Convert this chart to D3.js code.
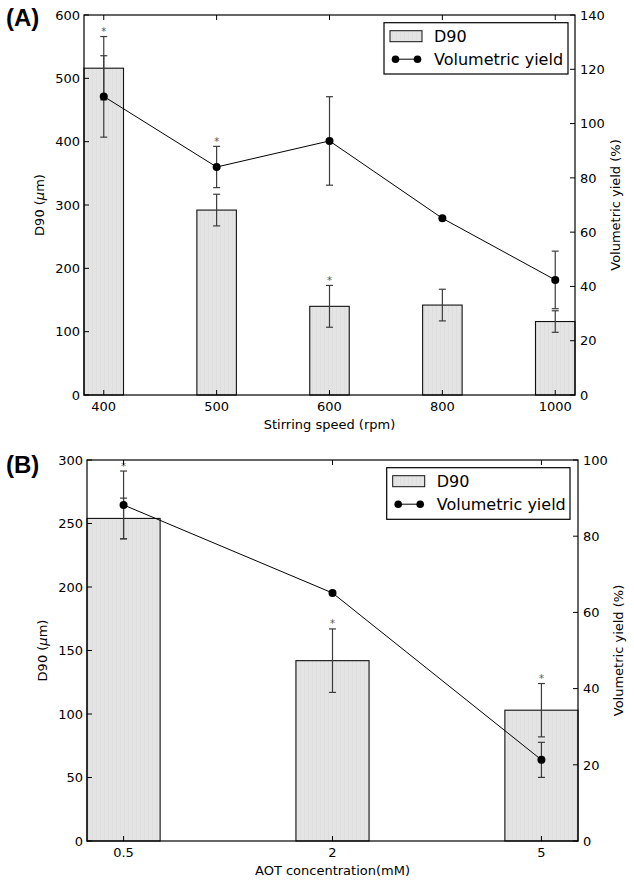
<!DOCTYPE html>
<html>
<head>
<meta charset="utf-8">
<script src="https://cdn.jsdelivr.net/npm/d3@7"></script>
<style>
  html, body { margin: 0; padding: 0; background: #fff; }
  svg text { font-family: "DejaVu Sans", sans-serif; fill: #000; }
</style>
</head>
<body>
<div id="chart"></div>
<script>
// ---------- Panel A data ----------
const catsA = ["400", "500", "600", "800", "1000"];
const d90A = [516, 292, 140, 142, 116];
const d90ErrA = [50, 25, 33, 25, 17];
const yieldA = [110, 84, 93.6, 65.1, 42.4];
const yieldErrA = [15, 7.6, 16.3, 0, 10.6];
const starA = ["d90", "yield", "d90", null, null];
const leftTicksA = [0, 100, 200, 300, 400, 500, 600];
const rightTicksA = [0, 20, 40, 60, 80, 100, 120, 140];

// ---------- Panel B data ----------
const catsB = ["0.5", "2", "5"];
const d90B = [254, 142, 103];
const d90ErrB = [16, 25, 21];
const yieldB = [88.2, 65.1, 21.3];
const yieldErrB = [8.9, 0, 4.6];
const starB = ["yield", "d90", "d90"];
const leftTicksB = [0, 50, 100, 150, 200, 250, 300];
const rightTicksB = [0, 20, 40, 60, 80, 100];

const W = 634, H = 882;
const svg = d3.select("#chart").append("svg").attr("width", W).attr("height", H);

const defs = svg.append("defs");
const pat = defs.append("pattern").attr("id", "hatch").attr("patternUnits", "userSpaceOnUse")
  .attr("width", 4).attr("height", 6);
pat.append("rect").attr("width", 4).attr("height", 6).attr("fill", "#e4e4e4");
pat.append("line").attr("x1", 0.5).attr("x2", 0.5).attr("y1", 0).attr("y2", 6)
  .attr("stroke", "#dedede").attr("stroke-width", 1);

function panel(cfg) {
  const g = svg.append("g");
  const {left, right, top, bottom} = cfg.box;
  const n = cfg.cats.length;
  const half = 0.175;
  const x = d3.scaleLinear().domain([-half, n - 1 + half]).range([left, right]);
  const yL = d3.scaleLinear().domain([0, cfg.leftTicks[cfg.leftTicks.length - 1]]).range([bottom, top]);
  const yR = d3.scaleLinear().domain([0, cfg.rightTicks[cfg.rightTicks.length - 1]]).range([bottom, top]);
  const idx = d3.range(n);
  const errColor = "#3c3c3c";
  const capW = 3.5;

  // bars
  g.selectAll("rect.bar").data(idx).join("rect").attr("class", "bar")
    .attr("x", i => x(i - half)).attr("width", i => x(i + half) - x(i - half))
    .attr("y", i => yL(cfg.d90[i])).attr("height", i => yL(0) - yL(cfg.d90[i]))
    .attr("fill", "url(#hatch)").attr("stroke", "#111").attr("stroke-width", 1.1);

  function errBars(vals, errs, scale) {
    idx.forEach(i => {
      if (!errs[i]) return;
      const cx = x(i), y1 = scale(vals[i] + errs[i]), y2 = scale(vals[i] - errs[i]);
      g.append("line").attr("x1", cx).attr("x2", cx).attr("y1", y1).attr("y2", y2)
        .attr("stroke", errColor).attr("stroke-width", 1.2);
      [y1, y2].forEach(yy => g.append("line").attr("x1", cx - capW).attr("x2", cx + capW)
        .attr("y1", yy).attr("y2", yy).attr("stroke", errColor).attr("stroke-width", 1.2));
    });
  }
  errBars(cfg.d90, cfg.d90Err, yL);

  // line
  const line = d3.line().x(i => x(i)).y(i => yR(cfg.yield[i]));
  g.append("path").datum(idx).attr("d", line).attr("fill", "none").attr("stroke", "#000").attr("stroke-width", 1);
  errBars(cfg.yield, cfg.yieldErr, yR);
  g.selectAll("circle.pt").data(idx).join("circle").attr("class", "pt")
    .attr("cx", i => x(i)).attr("cy", i => yR(cfg.yield[i])).attr("r", 4).attr("fill", "#000");

  // asterisks
  idx.forEach(i => {
    const s = cfg.star[i];
    if (!s) return;
    const capY = s === "d90" ? yL(cfg.d90[i] + cfg.d90Err[i]) : yR(cfg.yield[i] + cfg.yieldErr[i]);
    g.append("text").attr("x", x(i)).attr("y", capY - 1.5).attr("text-anchor", "middle")
      .attr("font-size", 10).style("fill", "#555").text("*");
  });

  // frame
  g.append("rect").attr("x", left).attr("y", top).attr("width", right - left).attr("height", bottom - top)
    .attr("fill", "none").attr("stroke", "#000").attr("stroke-width", 1.2);

  const tl = 5;
  // left ticks
  cfg.leftTicks.forEach(t => {
    g.append("line").attr("x1", left).attr("x2", left + tl).attr("y1", yL(t)).attr("y2", yL(t)).attr("stroke", "#000");
    g.append("text").attr("x", left - 4).attr("y", yL(t) + 4.7).attr("text-anchor", "end").attr("font-size", 13).text(t);
  });
  // right ticks
  cfg.rightTicks.forEach(t => {
    g.append("line").attr("x1", right).attr("x2", right - tl).attr("y1", yR(t)).attr("y2", yR(t)).attr("stroke", "#000");
    g.append("text").attr("x", right + 5).attr("y", yR(t) + 4.7).attr("text-anchor", "start").attr("font-size", 13).text(t);
  });
  // x ticks
  idx.forEach(i => {
    g.append("line").attr("x1", x(i)).attr("x2", x(i)).attr("y1", bottom).attr("y2", bottom - tl).attr("stroke", "#000");
    g.append("line").attr("x1", x(i)).attr("x2", x(i)).attr("y1", top).attr("y2", top + tl).attr("stroke", "#000");
    g.append("text").attr("x", x(i)).attr("y", bottom + 15.5).attr("text-anchor", "middle").attr("font-size", 13).text(cfg.cats[i]);
  });

  // axis labels
  g.append("text").attr("x", (left + right) / 2).attr("y", bottom + 33.5).attr("text-anchor", "middle")
    .attr("font-size", 13).text(cfg.xLabel);
  const ly = g.append("text").attr("transform", `translate(${left - 40},${(top + bottom) / 2}) rotate(-90)`)
    .attr("text-anchor", "middle").attr("font-size", 13);
  ly.append("tspan").text("D90 (");
  ly.append("tspan").attr("font-style", "italic").text("μ");
  ly.append("tspan").text("m)");
  g.append("text").attr("transform", `translate(${right + 45},${(top + bottom) / 2}) rotate(-90)`)
    .attr("text-anchor", "middle").attr("font-size", 13).text("Volumetric yield (%)");

  // panel letter
  g.append("text").attr("x", 6).attr("y", cfg.letterY)
    .style("font-family", "'Liberation Sans', Arial, sans-serif")
    .attr("font-weight", "bold").attr("font-size", 24).text(cfg.letter);

  // legend
  const L = cfg.legend;
  g.append("rect").attr("x", L.x).attr("y", L.y).attr("width", L.w).attr("height", L.h)
    .attr("fill", "#fff").attr("stroke", "#000").attr("stroke-width", 1.2);
  g.append("rect").attr("x", L.x + 6).attr("y", L.y + 8).attr("width", 32).attr("height", 11)
    .attr("fill", "url(#hatch)").attr("stroke", "#111").attr("stroke-width", 1);
  g.append("text").attr("x", L.x + 50).attr("y", L.y + 19).attr("font-size", 16).text("D90");
  const lyY = L.y + 36.5;
  g.append("line").attr("x1", L.x + 11.5).attr("x2", L.x + 33.5).attr("y1", lyY).attr("y2", lyY).attr("stroke", "#000");
  [L.x + 11.5, L.x + 33.5].forEach(cx => g.append("circle").attr("cx", cx).attr("cy", lyY).attr("r", 3.8).attr("fill", "#000"));
  g.append("text").attr("x", L.x + 50).attr("y", L.y + 42.5).attr("font-size", 16).text("Volumetric yield");
}

panel({
  box: {left: 84, right: 575, top: 15, bottom: 395},
  cats: catsA, d90: d90A, d90Err: d90ErrA, yield: yieldA, yieldErr: yieldErrA, star: starA,
  leftTicks: leftTicksA, rightTicks: rightTicksA,
  xLabel: "Stirring speed (rpm)", letter: "(A)", letterY: 26,
  legend: {x: 384, y: 22.7, w: 184, h: 51.3}
});
panel({
  box: {left: 87, right: 578, top: 460, bottom: 841},
  cats: catsB, d90: d90B, d90Err: d90ErrB, yield: yieldB, yieldErr: yieldErrB, star: starB,
  leftTicks: leftTicksB, rightTicks: rightTicksB,
  xLabel: "AOT concentration(mM)", letter: "(B)", letterY: 473,
  legend: {x: 386.7, y: 467.7, w: 183.3, h: 51.6}
});
</script>
</body>
</html>
